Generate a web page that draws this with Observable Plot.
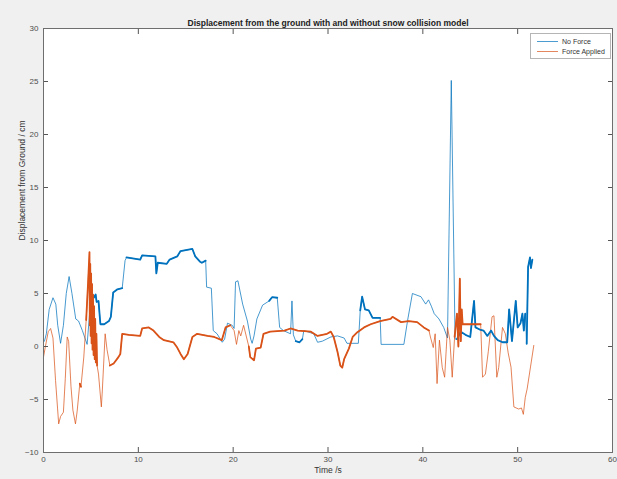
<!DOCTYPE html>
<html>
<head>
<meta charset="utf-8">
<script src="https://cdn.jsdelivr.net/npm/d3@7"></script>
<script src="https://cdn.jsdelivr.net/npm/@observablehq/plot@0.6"></script>
<style>
  html, body { margin: 0; padding: 0; background: #f0f0f0; }
  #wrap { position: relative; width: 617px; height: 479px; font-family: "Liberation Sans", Arial, sans-serif; }
  #legend { position: absolute; left: 530px; top: 33px; width: 79px; height: 24px; background: #fff; border: 1px solid #b5b5b5; font-size: 7px; color: #333; }
  .lg { position: absolute; left: 6px; height: 10px; display: flex; align-items: center; }
  .lg span.sw { display: inline-block; width: 21px; height: 0; margin-right: 4px; }
</style>
</head>
<body>
<div id="wrap"></div>
<script>
const titleText = "Displacement from the ground with and without snow collision model";
const xLabel = "Time /s";
const yLabel = "Displacement from Ground / cm";
const seriesNames = ["No Force", "Force Applied"];
const seriesColors = ["#0072BD", "#D95319"];
const xTicks = [0, 10, 20, 30, 40, 50, 60];
const yTicks = [-10, -5, 0, 5, 10, 15, 20, 25, 30];

const noForceT = [0.1,0.3,0.6,1.0,1.3,1.5,1.8,2.1,2.4,2.7,3.0,3.4,3.7,4.1,4.6,4.9,5.1,5.3,5.5,5.6,5.8,6.0,6.4,6.9,7.1,7.35,7.8,8.3,8.6,8.75,10.2,10.4,11.8,11.9,12.05,13.0,13.3,14.1,14.45,15.7,16.0,16.5,16.7,17.1,17.2,17.7,17.9,18.3,18.85,19.1,19.4,19.9,20.1,20.25,20.5,21.0,21.5,21.85,22.0,22.2,22.5,23.1,23.8,24.1,24.65,24.9,25.3,26.05,26.2,26.35,26.6,27.0,27.3,27.45,28.5,28.9,29.4,30.3,31.0,31.7,32.0,33.2,33.4,33.6,33.9,34.3,34.7,35.5,35.6,38.0,38.4,38.9,39.8,40.3,40.6,40.9,41.2,41.7,42.2,42.6,43.0,43.4,43.6,44.0,44.5,45.0,45.4,45.55,46.0,46.4,46.8,47.2,47.5,47.9,48.4,48.9,49.1,49.4,49.8,50.0,50.3,50.5,50.65,50.8,50.95,51.1,51.3,51.4,51.55];
const noForceV = [0.5,1.2,3.5,4.6,4.0,2.0,0.3,2.0,5.0,6.6,5.0,2.6,2.4,1.5,0.2,3.5,5.3,4.6,4.9,4.2,4.3,2.1,2.1,2.4,2.8,5.1,5.4,5.5,8.1,8.4,8.2,8.6,8.5,6.9,7.9,7.8,8.2,8.5,9.0,9.2,8.5,8.0,7.9,8.1,5.6,5.5,1.5,1.2,0.4,0.7,2.2,2.0,1.7,6.1,6.2,4.0,2.4,0.7,0.3,1.0,2.6,3.9,4.3,4.65,4.6,1.8,1.5,1.2,4.3,1.1,0.5,0.4,0.7,1.5,1.2,0.4,0.5,0.9,1.0,0.8,0.3,0.3,3.4,4.7,3.5,3.4,2.7,2.7,0.2,0.2,2.5,5.0,4.7,4.0,4.4,3.8,3.1,2.6,1.8,0.8,25.1,0.7,0.7,1.4,1.1,0.9,4.3,1.8,1.6,1.5,1.0,1.5,1.0,0.6,0.4,0.4,3.5,0.5,4.3,1.8,2.2,3.1,1.5,3.1,0.25,7.5,8.4,7.4,8.2];

const forceT = [0.0,0.2,0.5,0.75,1.0,1.27,1.6,1.8,2.1,2.3,2.5,2.65,2.9,3.1,3.37,3.55,3.83,3.95,4.25,4.5,4.7,4.85,4.88,4.93,4.97,5.02,5.07,5.12,5.17,5.22,5.28,5.33,5.4,5.45,5.52,5.58,5.65,5.8,6.1,6.2,6.5,6.7,7.0,7.4,7.9,8.1,8.3,9.0,10.2,10.4,11.1,11.6,12.2,12.7,13.7,14.1,14.45,14.8,15.2,15.7,16.2,17.3,18.0,18.8,19.2,19.7,20.1,20.35,20.6,20.8,21.1,21.4,21.65,21.8,22.2,22.4,22.9,23.2,23.9,25.4,26.05,26.8,28.2,28.9,29.9,30.3,30.6,31.0,31.3,31.5,31.7,32.2,32.6,33.1,33.8,34.5,35.5,36.6,36.8,37.7,38.5,39.4,40.1,40.65,40.8,41.1,41.3,41.5,41.75,42.05,42.3,42.6,42.85,43.1,43.35,43.6,43.75,43.9,44.0,44.1,44.2,44.7,46.1,46.3,46.6,46.9,47.3,47.5,47.8,48.0,48.4,48.7,49.0,49.3,49.6,50.1,50.4,50.6,50.8,51.0,51.7];
const forceV = [-1.0,0.0,1.4,1.7,0.8,-3.2,-7.3,-6.6,-6.2,-3.0,0.9,0.5,-3.8,-6.0,-7.3,-6.1,-3.5,-3.8,-1.0,2.5,6.0,8.9,2.0,7.8,1.0,6.9,0.3,5.9,-0.3,4.9,-0.8,3.8,-1.2,2.6,-1.5,1.2,-1.8,-2.6,-5.7,-4.2,1.2,-0.3,-1.8,-1.6,-1.0,-0.7,1.2,1.1,1.0,1.7,1.8,1.5,0.9,0.6,0.4,-0.1,-0.7,-1.2,-0.7,0.9,1.2,1.0,0.9,0.6,1.8,2.0,1.5,0.2,1.5,1.0,2.0,0.9,0.0,-1.0,-1.3,-0.2,-0.1,1.2,1.4,1.5,1.7,1.5,1.4,1.0,1.2,1.4,0.9,-0.5,-1.8,-2.0,-1.2,-0.2,0.9,1.35,1.8,2.1,2.4,2.6,2.8,2.3,2.4,2.3,1.8,1.5,0.9,-0.1,1.2,-3.5,0.6,-2.0,-2.9,1.8,0.6,-2.9,0.9,3.1,0.0,6.4,0.5,3.5,2.1,2.1,2.1,-2.9,-2.6,-0.5,2.8,2.9,-2.9,-2.0,1.8,1.2,-0.6,-1.95,-5.7,-5.9,-5.8,-6.4,-4.8,-4.0,0.1];

// time spans in which the recorded signal is dense/noisy (drawn as a heavier trace)
const noForceNoisy = [[5.2,8.3],[8.7,17.1],[23.5,24.7],[26.5,27.4],[33.4,35.5],[43.5,50.9],[50.95,51.6]];
const forceNoisy = [[3.8,4.0],[4.4,5.7],[6.8,20.0],[21.5,40.7],[43.3,46.15]];

function rows(ts, vs, name) { return ts.map((t, i) => ({t, v: vs[i], name})); }
function noisyRows(ts, vs, spans, name) {
  const out = [];
  spans.forEach((s, k) => ts.forEach((t, i) => { if (t >= s[0] && t <= s[1]) out.push({t, v: vs[i], name, seg: name + k}); }));
  return out;
}
const data = [...rows(noForceT, noForceV, seriesNames[0]), ...rows(forceT, forceV, seriesNames[1])];
const heavy = [...noisyRows(noForceT, noForceV, noForceNoisy, seriesNames[0]), ...noisyRows(forceT, forceV, forceNoisy, seriesNames[1])];

const chart = Plot.plot({
  width: 617, height: 479,
  marginLeft: 43, marginRight: 5, marginTop: 28, marginBottom: 27,
  style: {background: "transparent", fontFamily: "Liberation Sans, Arial, sans-serif", fontSize: "8px", color: "#4d4d4d"},
  x: {domain: [0, 60]},
  y: {domain: [-10, 30]},
  color: {domain: seriesNames, range: seriesColors},
  marks: [
    Plot.frame({fill: "white", stroke: null}),
    Plot.line(data, {x: "t", y: "v", z: "name", stroke: "name", strokeWidth: 1, strokeOpacity: 0.72}),
    Plot.line(heavy, {x: "t", y: "v", z: "seg", stroke: "name", strokeWidth: 1.8}),
    Plot.axisX({anchor: "bottom", ticks: xTicks, tickSize: -5, tickPadding: 9, label: null, stroke: "#555", fill: "#4d4d4d"}),
    Plot.axisX({anchor: "top", ticks: xTicks, tickSize: -5, tickFormat: () => "", label: null, stroke: "#555"}),
    Plot.axisY({anchor: "left", ticks: yTicks, tickSize: -5, tickPadding: 10, label: null, stroke: "#555", fill: "#4d4d4d"}),
    Plot.axisY({anchor: "right", ticks: yTicks, tickSize: -5, tickFormat: () => "", label: null, stroke: "#555"}),
    Plot.frame({stroke: "#6e6e6e"}),
    Plot.text([titleText], {frameAnchor: "top", dy: -9, fontWeight: "bold", fontSize: 8.5, fill: "#222"}),
    Plot.text([xLabel], {frameAnchor: "bottom", dy: 20, fontSize: 8.5, fill: "#333"}),
    Plot.text([yLabel], {frameAnchor: "left", dx: -21, rotate: -90, fontSize: 8.5, fill: "#333"})
  ]
});
const wrap = document.getElementById("wrap");
wrap.appendChild(chart);
const legend = document.createElement("div");
legend.id = "legend";
seriesNames.forEach((n, i) => {
  const row = document.createElement("div");
  row.className = "lg";
  row.style.top = (2 + i * 10) + "px";
  const sw = document.createElement("span");
  sw.className = "sw";
  sw.style.borderTop = "1px solid " + seriesColors[i];
  sw.style.opacity = 0.7;
  row.appendChild(sw);
  row.appendChild(document.createTextNode(n));
  legend.appendChild(row);
});
wrap.appendChild(legend);
</script>
</body>
</html>
